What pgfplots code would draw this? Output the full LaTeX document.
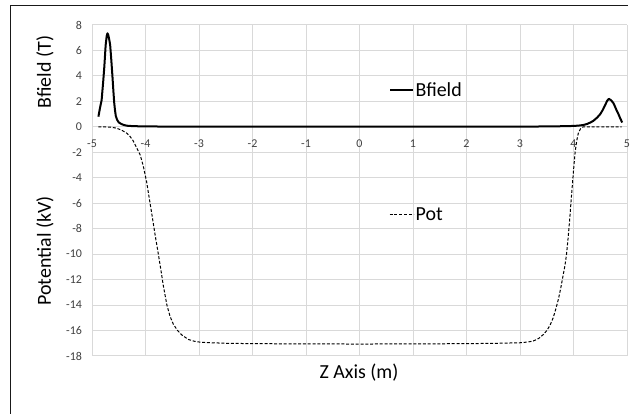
\documentclass[border=0pt]{standalone}
\usepackage{pgfplots}
\pgfplotsset{compat=1.18}
\usepackage{fontspec}
\setmainfont{Carlito}
\definecolor{gridgray}{HTML}{D9D9D9}
\definecolor{ticktext}{HTML}{404040}
\begin{document}
\begin{tikzpicture}
\useasboundingbox (0,0) rectangle (631bp,414bp);
\begin{axis}[
  at={(92bp,58bp)}, anchor=south west,
  scale only axis, width=535bp, height=331bp,
  xmin=-5, xmax=5, ymin=-18, ymax=8,
  axis x line=middle, axis y line=left,
  axis line style={draw=gridgray, line width=1bp, -},
  hide obscured x ticks=false, hide obscured y ticks=false,
  xtick={-5,-4,-3,-2,-1,0,1,2,3,4,5},
  xticklabels={-5,-4,-3,-2,-1,0,1,2,3,4,5},
  ytick={-18,-16,-14,-12,-10,-8,-6,-4,-2,0,2,4,6,8},
  yticklabels={-18,-16,-14,-12,-10,-8,-6,-4,-2,0,2,4,6,8},
  major tick length=0pt,
  grid=major,
  major grid style={draw=gridgray, line width=1bp},
  tick label style={font=\fontsize{12}{14}\selectfont, text=ticktext},
  xticklabel style={anchor=north, yshift=-9.5bp},
  yticklabel style={anchor=east, xshift=-6.5bp},
  legend style={draw=none, fill=none, at={(0.555,0.804)}, anchor=west,
    font=\fontsize{20}{24}\selectfont, inner sep=0pt,
    nodes={inner sep=1.5bp}},
  legend image code/.code={\draw[#1] (0bp,0bp) -- (23bp,0bp);},
  clip=false,
]
\addplot[black, line width=2bp, line join=round] coordinates {
(-4.88,0.8) (-4.85,1.5) (-4.82,2.1) (-4.79,3.6) (-4.77,4.7) (-4.745,6.4)
(-4.725,7.15) (-4.71,7.35) (-4.695,7.2) (-4.675,6.8) (-4.66,6.4)
(-4.64,5.3) (-4.62,4.1) (-4.60,2.8) (-4.585,1.9) (-4.57,1.3) (-4.555,0.85)
(-4.53,0.55) (-4.50,0.35) (-4.45,0.22) (-4.40,0.14) (-4.35,0.09)
(-4.25,0.06) (-4.1,0.04) (-3.9,0.03) (-3.5,0.02) (-3,0.015) (-2,0.01)
(-1,0.01) (0,0.01) (1,0.01) (2,0.012) (3,0.02) (3.5,0.03) (3.8,0.05)
(4.0,0.07) (4.1,0.1) (4.18,0.14) (4.25,0.22) (4.32,0.35) (4.37,0.47)
(4.44,0.72) (4.5,1.0) (4.55,1.35) (4.59,1.7) (4.63,2.05) (4.66,2.2)
(4.70,2.1) (4.74,1.9) (4.77,1.65) (4.80,1.35) (4.84,1.0) (4.87,0.7) (4.91,0.34)
};
\addlegendentry{Bfield}
\end{axis}
\begin{axis}[
  at={(92bp,58bp)}, anchor=south west,
  scale only axis, width=535bp, height=331bp,
  xmin=-5, xmax=5, ymin=-18, ymax=8,
  axis lines=none, xtick=\empty, ytick=\empty,
  legend style={draw=none, fill=none, at={(0.555,0.426)}, anchor=west,
    font=\fontsize{20}{24}\selectfont, inner sep=0pt,
    nodes={inner sep=1.5bp}},
  legend image code/.code={\draw[#1] (0bp,0bp) -- (24bp,0bp);},
  clip=false,
]
\addplot[black, line width=1bp, dash pattern=on 3bp off 1.8bp, line join=round] coordinates {
(-4.88,0) (-4.75,-0.01) (-4.65,-0.03) (-4.57,-0.08) (-4.5,-0.17)
(-4.43,-0.3) (-4.35,-0.5) (-4.29,-0.75) (-4.23,-1.1) (-4.17,-1.6)
(-4.1,-2.2) (-4.04,-3.1) (-3.98,-4.3) (-3.93,-5.6) (-3.88,-6.9)
(-3.82,-8.5) (-3.76,-10.0) (-3.71,-11.3) (-3.67,-12.4) (-3.6,-14.0)
(-3.54,-14.9) (-3.48,-15.5) (-3.4,-16.0) (-3.32,-16.35) (-3.2,-16.7)
(-3.08,-16.85) (-2.95,-16.93) (-2.5,-17.0) (-2,-17.03) (-1,-17.05)
(0,-17.06) (1,-17.05) (2,-17.03) (2.6,-17.0) (3.0,-16.96) (3.15,-16.9)
(3.25,-16.82) (3.35,-16.62) (3.44,-16.3) (3.5,-16.0) (3.56,-15.6)
(3.62,-15.0) (3.67,-14.3) (3.72,-13.5) (3.76,-12.7) (3.80,-11.8)
(3.84,-10.9) (3.87,-10.0) (3.9,-8.7) (3.93,-7.2) (3.955,-5.8)
(3.98,-4.5) (4.005,-3.2) (4.03,-2.0) (4.06,-1.1) (4.09,-0.5)
(4.13,-0.15) (4.18,0) (4.5,0) (4.9,0)
};
\addlegendentry{Pot}
\end{axis}
\node[rotate=90, font=\fontsize{20}{24}\selectfont] at (45bp,342bp) {Bfield (T)};
\node[rotate=90, font=\fontsize{20}{24}\selectfont] at (45bp,163bp) {Potential (kV)};
\node[font=\fontsize{20}{24}\selectfont] at (359bp,41bp) {Z Axis (m)};
\draw[line width=1bp, black!90] (10.3bp,0) -- (10.3bp,408.7bp) -- (628bp,408.7bp);
\end{tikzpicture}
\end{document}
